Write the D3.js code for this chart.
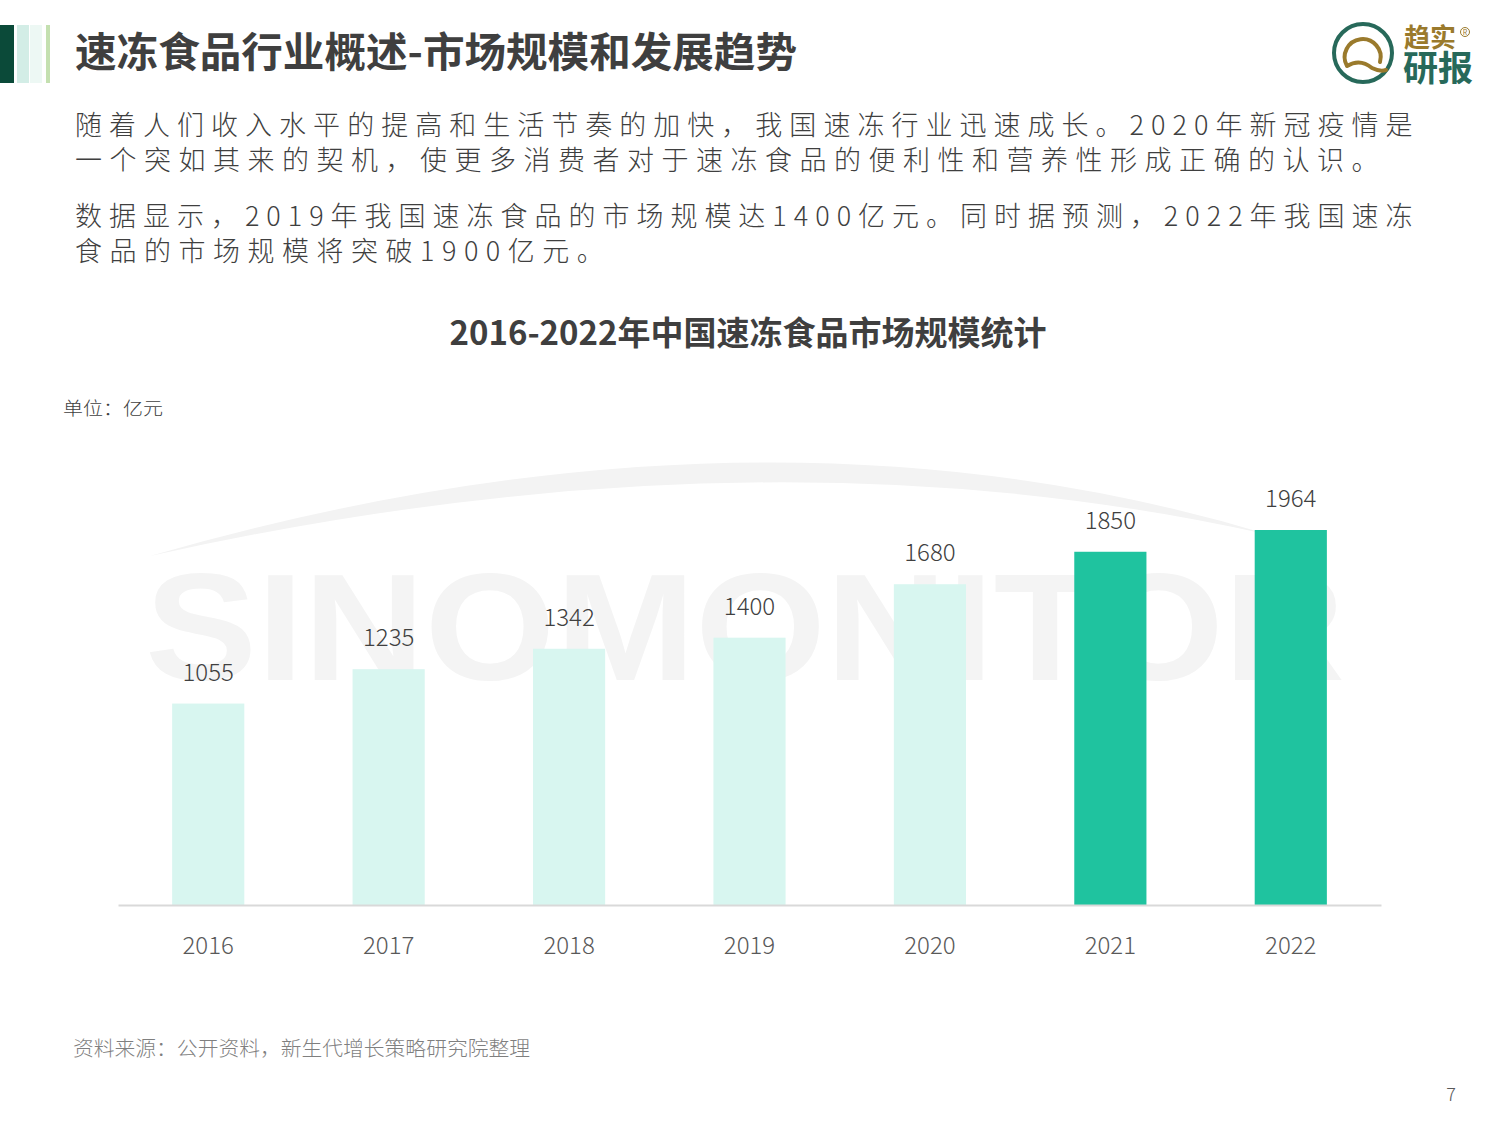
<!DOCTYPE html>
<html>
<head>
<meta charset="utf-8">
<script src="https://cdn.jsdelivr.net/npm/d3@7"></script>
<style>
  html, body { margin: 0; padding: 0; background: #fff; }
  svg text { font-family: "Noto Sans CJK SC", "Noto Sans", sans-serif; }
</style>
</head>
<body>
<div id="chart"></div>
<script>
(function () {

  // Data
  const years = ["2016", "2017", "2018", "2019", "2020", "2021", "2022"];
  const values = [1055, 1235, 1342, 1400, 1680, 1850, 1964];
  const darkYears = ["2021", "2022"];

  const pageTitle = "速冻食品行业概述-市场规模和发展趋势";
  const chartTitle = "2016-2022年中国速冻食品市场规模统计";
  const paraLines = [
    { text: "随着人们收入水平的提高和生活节奏的加快，我国速冻行业迅速成长。2020年新冠疫情是", y: 135, justify: true },
    { text: "一个突如其来的契机，使更多消费者对于速冻食品的便利性和营养性形成正确的认识。", y: 170, justify: false },
    { text: "数据显示，2019年我国速冻食品的市场规模达1400亿元。同时据预测，2022年我国速冻", y: 226, justify: true },
    { text: "食品的市场规模将突破1900亿元。", y: 261, justify: false }
  ];

  const W = 1500, H = 1125;
  const svg = d3.select("#chart")
    .append("svg")
    .attr("width", W)
    .attr("height", H);

  // Header bars on the left
  svg.append("rect").attr("x", 0).attr("y", 25).attr("width", 14).attr("height", 58).attr("fill", "#0b4a39");
  svg.append("rect").attr("x", 17).attr("y", 25).attr("width", 12).attr("height", 58).attr("fill", "#d3ede6");
  svg.append("rect").attr("x", 30).attr("y", 25).attr("width", 12).attr("height", 58).attr("fill", "#edf8f4");
  svg.append("rect").attr("x", 46).attr("y", 25).attr("width", 4).attr("height", 58).attr("fill", "#c4e0b0");

  svg.append("text")
    .attr("x", 75).attr("y", 67)
    .attr("textLength", 722).attr("lengthAdjust", "spacingAndGlyphs")
    .style("font-size", "41px")
    .style("font-weight", "700")
    .attr("fill", "#3f3f3f")
    .text(pageTitle);

  // Logo
  const logo = svg.append("g");
  logo.append("circle").attr("cx", 1363).attr("cy", 53).attr("r", 29)
    .attr("fill", "none").attr("stroke", "#27695a").attr("stroke-width", 4);
  logo.append("path")
    .attr("d", "M1347,66 A18,18 0 1 1 1380,62 M1347,66 Q1360,58 1372,68 Q1380,72 1386,70")
    .attr("fill", "none").attr("stroke", "#9a7a2c").attr("stroke-width", 4).attr("stroke-linecap", "round");
  logo.append("text").attr("x", 1404).attr("y", 47)
    .style("font-size", "26px").style("font-weight", "700").attr("fill", "#9a7a2c").text("趋实");
  logo.append("circle").attr("cx", 1465).attr("cy", 32).attr("r", 4.5)
    .attr("fill", "none").attr("stroke", "#9a7a2c").attr("stroke-width", 1);
  logo.append("text").attr("x", 1465).attr("y", 35).attr("text-anchor", "middle")
    .style("font-size", "7px").attr("fill", "#9a7a2c").text("R");
  logo.append("text").attr("x", 1403).attr("y", 81)
    .style("font-size", "35px").style("font-weight", "700").attr("fill", "#27695a").text("研报");

  // Intro paragraph
  paraLines.forEach(l => {
    const t = svg.append("text")
      .attr("x", 75).attr("y", l.y)
      .style("font-size", "27px")
      .style("font-weight", "300")
      .style("letter-spacing", "7.5px")
      .attr("fill", "#3f3f3f")
      .text(l.text);
    if (l.justify) t.attr("textLength", 1345).attr("lengthAdjust", "spacing");
  });

  // Watermark
  svg.append("path")
    .attr("d", "M150,556 Q760,380 1270,535 Q760,420 150,556 Z")
    .attr("fill", "#f3f3f3");
  svg.append("text")
    .attr("x", 145).attr("y", 680)
    .attr("textLength", 1200).attr("lengthAdjust", "spacingAndGlyphs")
    .style("font-family", "'Liberation Sans', Arial, sans-serif")
    .style("font-size", "152px")
    .style("font-weight", "700")
    .attr("fill", "#f4f4f4")
    .text("SINOMONITOR");

  // Chart title and unit
  svg.append("text")
    .attr("x", 748).attr("y", 345)
    .attr("text-anchor", "middle")
    .style("font-size", "33px")
    .style("font-weight", "700")
    .attr("fill", "#3f3f3f")
    .text(chartTitle);

  svg.append("text")
    .attr("x", 63).attr("y", 415)
    .attr("textLength", 100).attr("lengthAdjust", "spacingAndGlyphs")
    .style("font-size", "18px")
    .style("font-weight", "300")
    .attr("fill", "#404040")
    .text("单位：亿元");

  // Scales
  const x = d3.scaleBand()
    .domain(years)
    .range([118, 1381])
    .paddingInner(0.6)
    .paddingOuter(0.3);

  const y = d3.scaleLinear()
    .domain([0, 1964])
    .range([905, 530]);

  // Bars
  svg.selectAll("rect.bar")
    .data(years)
    .enter()
    .append("rect")
    .attr("class", "bar")
    .attr("x", d => x(d))
    .attr("y", (d, i) => y(values[i]))
    .attr("width", x.bandwidth())
    .attr("height", (d, i) => y(0) - y(values[i]))
    .attr("fill", d => darkYears.includes(d) ? "#1fc39f" : "#d8f6f0");

  // Value labels
  svg.selectAll("text.val")
    .data(years)
    .enter()
    .append("text")
    .attr("class", "val")
    .attr("x", d => x(d) + x.bandwidth() / 2)
    .attr("y", (d, i) => y(values[i]) - 23)
    .attr("text-anchor", "middle")
    .style("font-size", "24px")
    .style("font-weight", "300")
    .attr("fill", "#404040")
    .text((d, i) => values[i]);

  // X axis
  const xAxis = svg.append("g")
    .attr("transform", "translate(0,905)")
    .call(d3.axisBottom(x).tickSize(0).tickPadding(32));
  xAxis.select(".domain").attr("stroke", "#d9d9d9").attr("stroke-width", 2);
  xAxis.selectAll("text")
    .style("font-family", "'Noto Sans CJK SC', 'Noto Sans', sans-serif")
    .style("font-size", "24px")
    .style("font-weight", "300")
    .attr("fill", "#595959");

  // Source and page number
  svg.append("text")
    .attr("x", 73).attr("y", 1056)
    .attr("textLength", 457).attr("lengthAdjust", "spacingAndGlyphs")
    .style("font-size", "20px")
    .style("font-weight", "300")
    .attr("fill", "#7f7f7f")
    .text("资料来源：公开资料，新生代增长策略研究院整理");

  svg.append("text")
    .attr("x", 1456).attr("y", 1101)
    .attr("text-anchor", "end")
    .style("font-size", "18px")
    .style("font-weight", "300")
    .attr("fill", "#595959")
    .text("7");

})();
</script>
</body>
</html>
